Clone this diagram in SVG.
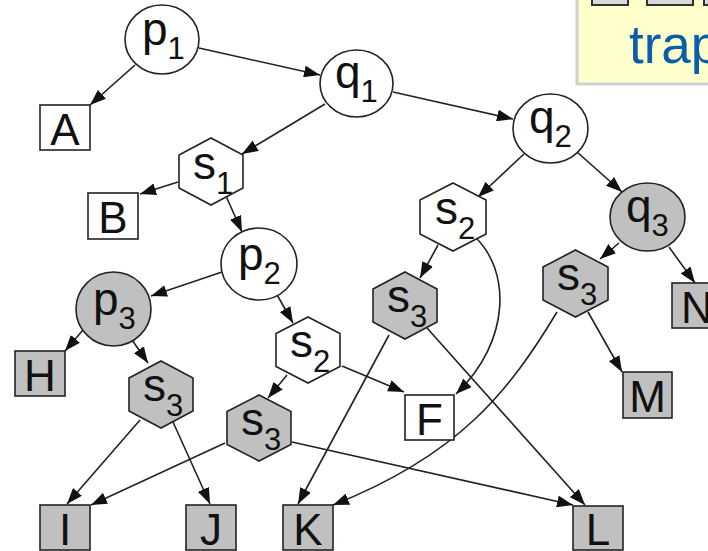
<svg xmlns="http://www.w3.org/2000/svg" width="708" height="551" viewBox="0 0 708 551">
<style>
.w{fill:#fff;stroke:#222;stroke-width:1.6}
.g{fill:#c0c0c0;stroke:#222;stroke-width:1.6}
.lbl{font-family:"Liberation Sans",Arial,sans-serif;font-size:46px;fill:#111}
.sub{font-size:31px}
.box{font-family:"Liberation Sans",Arial,sans-serif;font-size:44px;fill:#111;text-anchor:middle}
.e{fill:none;stroke:#222;stroke-width:1.6;marker-end:url(#ah)}
</style>
<defs>
<marker id="ah" markerUnits="userSpaceOnUse" markerWidth="16" markerHeight="12" refX="16" refY="6" orient="auto">
<path d="M0,0 L16,6 L0,12 z" fill="#111"/>
</marker>
</defs>
<rect width="708" height="551" fill="#fff"/>
<g id="callout">
<rect x="577" y="-20" width="150" height="104" fill="#ffffcc" stroke="#d0d0d0" stroke-width="3"/>
<rect x="592" y="-30" width="36" height="35" fill="#d8d8d8" stroke="#333" stroke-width="2"/>
<rect x="647" y="-30" width="46" height="35" fill="#d8d8d8" stroke="#333" stroke-width="2"/>
<rect x="704" y="-30" width="30" height="35" fill="#d8d8d8" stroke="#333" stroke-width="2"/>
<text x="629" y="63" font-family="Liberation Sans,Arial,sans-serif" font-size="53" fill="#0a5fab">trap</text>
</g>
<g id="edges">
<path class="e" d="M135,65 L90,105"/>
<path class="e" d="M199,48 L320,75"/>
<path class="e" d="M325,104 L242,154"/>
<path class="e" d="M393,92 L513,119"/>
<path class="e" d="M178,182 L140,194"/>
<path class="e" d="M226,196 L242,232"/>
<path class="e" d="M222,272 L151,296"/>
<path class="e" d="M276,293 L293,323"/>
<path class="e" d="M83,330 L65,351"/>
<path class="e" d="M130,337 L148,363"/>
<path class="e" d="M287,375 L268,398"/>
<path class="e" d="M342,366 L404,392"/>
<path class="e" d="M524,154 L478,197"/>
<path class="e" d="M577,152 L622,192"/>
<path class="e" d="M438,245 L420,278"/>
<path class="e" d="M475,237 C510,270 512,340 456,394"/>
<path class="e" d="M619,243 L600,259"/>
<path class="e" d="M669,247 L695,283"/>
<path class="e" d="M588,312 L622,372"/>
<path class="e" d="M557,312 C510,390 460,455 333,505"/>
<path class="e" d="M389,335 L298,504"/>
<path class="e" d="M427,328 L585,505"/>
<path class="e" d="M225,443 L91,505"/>
<path class="e" d="M292,442 L573,505"/>
<path class="e" d="M140,420 L67,504"/>
<path class="e" d="M173,422 L210,504"/>
</g>
<g id="p1"><ellipse class="w" cx="162" cy="39.5" rx="37" ry="34.5"/><text class="lbl" x="142" y="45">p<tspan class="sub" dy="14">1</tspan></text></g>
<g id="q1"><ellipse class="w" cx="356.5" cy="83.5" rx="36.5" ry="33.5"/><text class="lbl" x="335" y="88">q<tspan class="sub" dy="14">1</tspan></text></g>
<g id="q2"><ellipse class="w" cx="550.5" cy="128.5" rx="37.5" ry="34.5"/><text class="lbl" x="529" y="133">q<tspan class="sub" dy="14">2</tspan></text></g>
<g id="p2"><ellipse class="w" cx="259" cy="264" rx="38" ry="36"/><text class="lbl" x="238" y="270">p<tspan class="sub" dy="14">2</tspan></text></g>
<g id="p3"><ellipse class="g" cx="113.5" cy="309" rx="37.5" ry="37"/><text class="lbl" x="93" y="315">p<tspan class="sub" dy="14">3</tspan></text></g>
<g id="q3"><ellipse class="g" cx="647.5" cy="217" rx="37.5" ry="34"/><text class="lbl" x="626" y="222">q<tspan class="sub" dy="14">3</tspan></text></g>
<g id="s1"><polygon class="w" points="211,138 243,155 243,188 211,205 179,188 179,155"/><text class="lbl" x="193" y="179">s<tspan class="sub" dy="15">1</tspan></text></g>
<g id="s2a"><polygon class="w" points="308,317 340,333.5 340,366.5 308,383 276,366.5 276,333.5"/><text class="lbl" x="290" y="357">s<tspan class="sub" dy="15">2</tspan></text></g>
<g id="s2b"><polygon class="w" points="453,183 486,200 486,234 453,251 420,234 420,200"/><text class="lbl" x="435" y="224">s<tspan class="sub" dy="15">2</tspan></text></g>
<g id="s3a"><polygon class="g" points="161,361 193,378 193,411 161,428 129,411 129,378"/><text class="lbl" x="143" y="401">s<tspan class="sub" dy="15">3</tspan></text></g>
<g id="s3b"><polygon class="g" points="259,395 291,411.5 291,444.5 259,461 227,444.5 227,411.5"/><text class="lbl" x="241" y="435">s<tspan class="sub" dy="15">3</tspan></text></g>
<g id="s3c"><polygon class="g" points="405,272 437,289 437,322 405,339 373,322 373,289"/><text class="lbl" x="387" y="312">s<tspan class="sub" dy="15">3</tspan></text></g>
<g id="s3d"><polygon class="g" points="575.5,250 608,267 608,300 575.5,317 543,300 543,267"/><text class="lbl" x="557" y="290">s<tspan class="sub" dy="15">3</tspan></text></g>
<g id="A"><rect class="w" x="40" y="105" width="50" height="45"/><text class="box" x="65" y="145">A</text></g>
<g id="B"><rect class="w" x="88" y="193" width="50" height="46"/><text class="box" x="113" y="233">B</text></g>
<g id="F"><rect class="w" x="405" y="395" width="49" height="45"/><text class="box" x="429.5" y="435">F</text></g>
<g id="H"><rect class="g" x="15" y="351" width="50" height="45"/><text class="box" x="40" y="391">H</text></g>
<g id="N"><rect class="g" x="672" y="283" width="50" height="45"/><text class="box" x="697" y="323">N</text></g>
<g id="M"><rect class="g" x="623" y="372" width="49" height="46"/><text class="box" x="647.5" y="412">M</text></g>
<g id="I"><rect class="g" x="40" y="505" width="50" height="45"/><text class="box" x="65" y="545">I</text></g>
<g id="J"><rect class="g" x="186" y="505" width="50" height="45"/><text class="box" x="211" y="545">J</text></g>
<g id="K"><rect class="g" x="283" y="505" width="50" height="45"/><text class="box" x="308" y="545">K</text></g>
<g id="L"><rect class="g" x="573" y="506" width="50" height="44"/><text class="box" x="598" y="545">L</text></g>
</svg>
